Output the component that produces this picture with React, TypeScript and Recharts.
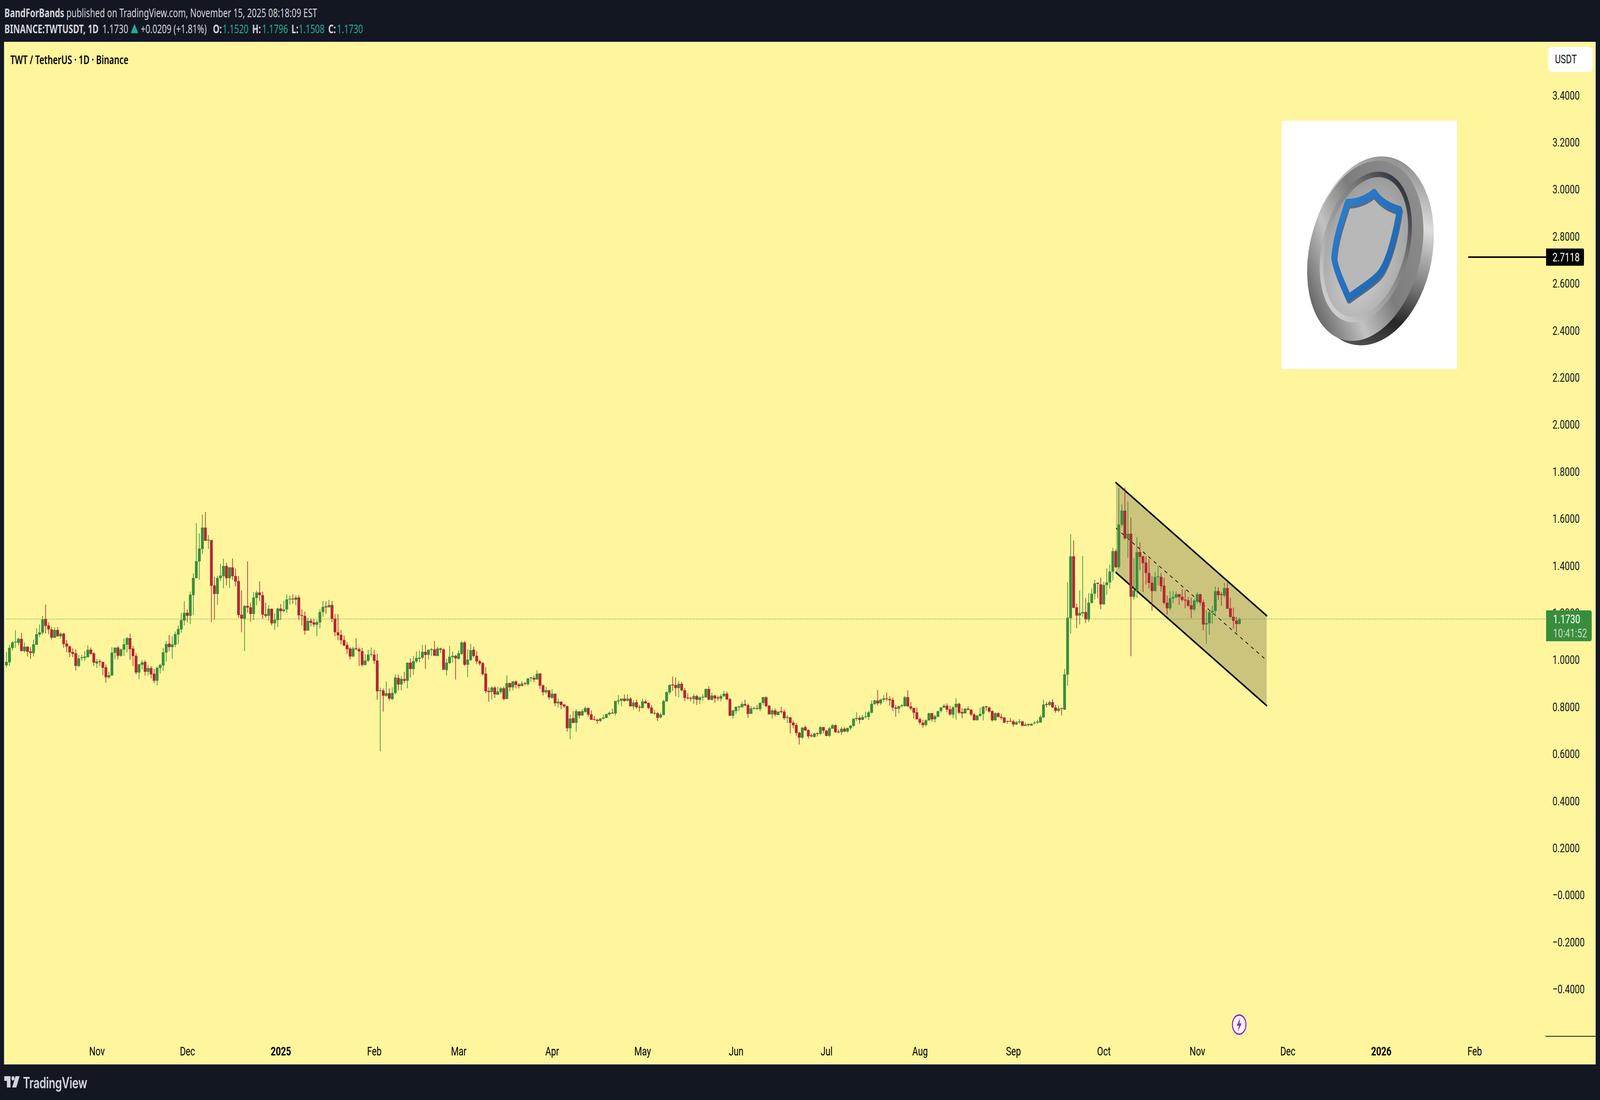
import React from "react";
import { ComposedChart, Bar, Area, XAxis, YAxis, ReferenceLine } from "recharts";

// daily TWT/USDT candles, Oct 2 2024 -> Nov 15 2025, ten per line
const opens = [
  0.976,0.989,1.050,1.074,1.072,1.089,1.037,1.056,1.036,1.028,
  1.064,1.107,1.115,1.174,1.146,1.129,1.094,1.127,1.100,1.111,
  1.069,1.057,1.033,1.028,0.974,1.008,1.008,1.011,1.043,1.028,
  0.984,0.994,0.991,0.968,0.925,0.933,1.029,1.052,1.017,1.043,
  1.064,1.092,1.048,1.017,0.946,0.979,0.991,0.949,0.965,0.941,
  0.911,0.965,0.976,1.031,1.069,1.054,1.064,1.107,1.129,1.167,
  1.200,1.187,1.275,1.347,1.418,1.471,1.562,1.507,1.509,1.316,
  1.280,1.347,1.355,1.399,1.347,1.393,1.356,1.335,1.192,1.175,
  1.229,1.223,1.195,1.263,1.286,1.275,1.194,1.187,1.217,1.155,
  1.169,1.218,1.207,1.214,1.257,1.260,1.255,1.265,1.190,1.187,
  1.124,1.166,1.159,1.149,1.159,1.203,1.227,1.223,1.233,1.175,
  1.117,1.106,1.084,1.063,1.048,1.014,1.049,1.045,1.037,0.978,
  0.996,1.022,1.022,0.997,0.868,0.870,0.847,0.858,0.833,0.859,
  0.923,0.895,0.918,0.911,0.988,0.961,0.993,1.004,1.009,1.034,
  1.021,1.043,1.044,1.016,1.048,1.044,0.956,0.986,1.011,1.017,
  1.004,1.025,1.074,0.979,0.999,1.043,1.017,0.994,0.986,0.941,
  0.868,0.863,0.882,0.851,0.863,0.879,0.833,0.901,0.883,0.908,
  0.895,0.888,0.901,0.896,0.921,0.923,0.916,0.942,0.891,0.862,
  0.870,0.838,0.856,0.815,0.822,0.810,0.803,0.709,0.752,0.732,
  0.780,0.763,0.778,0.795,0.768,0.748,0.745,0.740,0.750,0.753,
  0.768,0.775,0.772,0.823,0.826,0.835,0.826,0.835,0.802,0.820,
  0.800,0.795,0.823,0.817,0.797,0.772,0.773,0.755,0.765,0.823,
  0.861,0.895,0.893,0.880,0.898,0.871,0.840,0.838,0.833,0.846,
  0.830,0.840,0.840,0.876,0.830,0.848,0.840,0.835,0.845,0.856,
  0.833,0.762,0.782,0.798,0.798,0.812,0.807,0.770,0.792,0.795,
  0.790,0.817,0.841,0.805,0.768,0.785,0.765,0.782,0.780,0.753,
  0.755,0.733,0.723,0.690,0.669,0.714,0.702,0.679,0.672,0.689,
  0.685,0.714,0.699,0.677,0.707,0.722,0.695,0.692,0.707,0.695,
  0.709,0.719,0.748,0.753,0.745,0.757,0.757,0.775,0.812,0.827,
  0.815,0.830,0.836,0.833,0.830,0.797,0.792,0.803,0.803,0.841,
  0.802,0.795,0.777,0.748,0.733,0.723,0.742,0.773,0.747,0.758,
  0.782,0.797,0.805,0.790,0.767,0.798,0.813,0.778,0.772,0.792,
  0.788,0.768,0.743,0.762,0.770,0.802,0.797,0.782,0.743,0.773,
  0.758,0.755,0.737,0.740,0.738,0.725,0.735,0.738,0.719,0.727,
  0.720,0.730,0.733,0.733,0.755,0.812,0.808,0.820,0.798,0.783,
  0.795,0.788,0.937,1.177,1.440,1.223,1.188,1.197,1.203,1.171,
  1.242,1.281,1.327,1.321,1.236,1.318,1.329,1.374,1.462,1.394,
  1.574,1.634,1.516,1.536,1.268,1.293,1.458,1.440,1.413,1.369,
  1.328,1.292,1.352,1.353,1.315,1.243,1.219,1.261,1.265,1.279,
  1.268,1.256,1.253,1.232,1.214,1.247,1.279,1.245,1.150,1.155,
  1.201,1.207,1.292,1.279,1.273,1.305,1.219,1.183,1.167,1.152,
];
const highs = [
  1.033,1.063,1.080,1.126,1.094,1.114,1.074,1.057,1.054,1.086,
  1.135,1.150,1.187,1.235,1.160,1.140,1.137,1.139,1.117,1.115,
  1.084,1.061,1.049,1.045,1.021,1.021,1.037,1.061,1.052,1.032,
  1.004,1.002,0.991,0.981,0.948,1.054,1.052,1.059,1.049,1.091,
  1.097,1.111,1.059,1.029,0.982,0.999,0.999,0.978,0.973,0.961,
  0.971,0.984,1.051,1.080,1.106,1.100,1.120,1.146,1.200,1.249,
  1.214,1.290,1.367,1.581,1.537,1.617,1.629,1.530,1.509,1.353,
  1.358,1.408,1.430,1.413,1.395,1.431,1.388,1.356,1.295,1.233,
  1.419,1.242,1.288,1.293,1.333,1.290,1.243,1.232,1.218,1.198,
  1.222,1.237,1.250,1.278,1.273,1.278,1.275,1.275,1.215,1.205,
  1.179,1.175,1.174,1.169,1.215,1.249,1.249,1.255,1.250,1.195,
  1.195,1.126,1.103,1.076,1.054,1.056,1.092,1.052,1.051,1.024,
  1.043,1.052,1.043,1.025,0.882,0.878,0.908,0.878,0.883,0.938,
  0.938,0.931,0.949,0.988,1.006,1.017,1.036,1.039,1.064,1.064,
  1.044,1.051,1.080,1.056,1.052,1.048,1.004,1.059,1.036,1.021,
  1.041,1.079,1.080,1.045,1.067,1.056,1.037,1.001,0.991,0.969,
  0.883,0.888,0.888,0.885,0.885,0.886,0.934,0.903,0.910,0.913,
  0.901,0.910,0.906,0.921,0.928,0.933,0.956,0.942,0.896,0.885,
  0.873,0.875,0.856,0.836,0.823,0.812,0.805,0.768,0.782,0.790,
  0.782,0.790,0.802,0.797,0.785,0.762,0.750,0.753,0.767,0.770,
  0.780,0.792,0.825,0.850,0.836,0.853,0.853,0.840,0.828,0.831,
  0.808,0.835,0.831,0.818,0.807,0.788,0.777,0.775,0.830,0.865,
  0.895,0.929,0.926,0.911,0.906,0.880,0.858,0.843,0.855,0.851,
  0.845,0.855,0.878,0.888,0.860,0.851,0.848,0.855,0.868,0.865,
  0.838,0.787,0.802,0.805,0.822,0.831,0.813,0.803,0.800,0.808,
  0.818,0.843,0.845,0.808,0.793,0.793,0.780,0.800,0.788,0.765,
  0.758,0.742,0.732,0.694,0.714,0.720,0.704,0.687,0.689,0.689,
  0.719,0.714,0.702,0.715,0.727,0.725,0.704,0.715,0.714,0.712,
  0.722,0.750,0.777,0.762,0.767,0.780,0.783,0.827,0.830,0.871,
  0.835,0.850,0.861,0.845,0.840,0.807,0.805,0.812,0.846,0.870,
  0.820,0.797,0.798,0.755,0.745,0.747,0.775,0.773,0.767,0.783,
  0.800,0.813,0.815,0.805,0.803,0.836,0.818,0.795,0.795,0.802,
  0.790,0.773,0.767,0.797,0.805,0.805,0.802,0.785,0.777,0.777,
  0.770,0.755,0.742,0.753,0.745,0.740,0.748,0.740,0.733,0.728,
  0.730,0.740,0.745,0.765,0.831,0.822,0.827,0.833,0.808,0.805,
  0.795,0.961,1.329,1.534,1.508,1.239,1.295,1.442,1.263,1.283,
  1.304,1.340,1.329,1.349,1.332,1.389,1.405,1.476,1.469,1.730,
  1.660,1.732,1.674,1.605,1.433,1.521,1.499,1.442,1.440,1.428,
  1.355,1.373,1.400,1.369,1.349,1.273,1.292,1.292,1.290,1.279,
  1.300,1.295,1.267,1.264,1.259,1.287,1.281,1.256,1.212,1.214,
  1.230,1.312,1.309,1.288,1.327,1.327,1.263,1.222,1.183,1.180,
];
const lows = [
  0.968,0.974,1.039,1.051,1.061,1.036,1.031,1.014,1.004,1.014,
  1.064,1.097,1.106,1.112,1.109,1.086,1.092,1.098,1.089,1.051,
  1.032,1.011,1.011,0.954,0.968,0.997,0.996,1.011,1.022,0.974,
  0.966,0.973,0.936,0.903,0.919,0.933,1.002,1.001,1.013,1.016,
  1.031,1.001,0.973,0.938,0.918,0.959,0.933,0.934,0.921,0.901,
  0.891,0.942,0.953,0.993,1.036,1.004,1.054,1.067,1.115,1.146,
  1.159,1.152,1.190,1.347,1.340,1.450,1.506,1.471,1.160,1.170,
  1.233,1.335,1.304,1.316,1.305,1.340,1.312,1.179,1.117,1.037,
  1.200,1.162,1.169,1.232,1.250,1.175,1.179,1.166,1.146,1.127,
  1.139,1.170,1.202,1.200,1.235,1.238,1.232,1.170,1.146,1.107,
  1.124,1.142,1.140,1.100,1.134,1.183,1.195,1.223,1.160,1.100,
  1.083,1.066,1.057,1.025,1.001,1.011,1.041,0.974,0.971,0.976,
  0.991,1.013,0.982,0.830,0.611,0.780,0.843,0.827,0.828,0.853,
  0.870,0.870,0.901,0.879,0.925,0.936,0.986,0.989,1.002,0.962,
  1.001,1.016,1.017,1.016,1.029,0.958,0.933,0.982,0.988,0.916,
  1.001,1.020,0.974,0.926,0.994,1.009,0.982,0.976,0.933,0.858,
  0.822,0.830,0.838,0.851,0.855,0.827,0.833,0.866,0.870,0.878,
  0.878,0.888,0.891,0.890,0.906,0.905,0.916,0.876,0.848,0.855,
  0.830,0.833,0.803,0.797,0.790,0.795,0.695,0.662,0.730,0.694,
  0.750,0.763,0.775,0.758,0.745,0.742,0.728,0.735,0.747,0.753,
  0.763,0.772,0.763,0.810,0.803,0.822,0.823,0.802,0.788,0.792,
  0.780,0.793,0.813,0.790,0.772,0.765,0.740,0.750,0.765,0.823,
  0.853,0.868,0.845,0.840,0.866,0.825,0.831,0.823,0.812,0.808,
  0.812,0.826,0.840,0.828,0.828,0.818,0.826,0.823,0.843,0.830,
  0.762,0.750,0.770,0.783,0.798,0.805,0.753,0.770,0.788,0.787,
  0.782,0.808,0.798,0.768,0.750,0.760,0.765,0.772,0.745,0.732,
  0.687,0.709,0.677,0.640,0.664,0.697,0.665,0.670,0.670,0.674,
  0.680,0.687,0.675,0.672,0.707,0.690,0.687,0.680,0.694,0.690,
  0.700,0.715,0.740,0.728,0.743,0.750,0.745,0.772,0.808,0.805,
  0.808,0.822,0.825,0.805,0.782,0.758,0.773,0.797,0.802,0.800,
  0.785,0.750,0.747,0.725,0.712,0.717,0.742,0.737,0.733,0.755,
  0.775,0.795,0.777,0.762,0.752,0.745,0.770,0.752,0.772,0.787,
  0.760,0.743,0.742,0.758,0.742,0.783,0.775,0.737,0.740,0.755,
  0.745,0.730,0.728,0.737,0.715,0.723,0.728,0.719,0.719,0.717,
  0.720,0.725,0.727,0.733,0.753,0.798,0.803,0.795,0.775,0.777,
  0.763,0.787,0.890,1.111,1.219,1.135,1.150,1.183,1.156,1.161,
  1.239,1.257,1.262,1.215,1.234,1.276,1.303,1.338,1.390,1.387,
  1.565,1.511,1.433,1.015,1.256,1.264,1.381,1.288,1.320,1.303,
  1.208,1.292,1.317,1.290,1.235,1.192,1.210,1.240,1.261,1.234,
  1.248,1.219,1.225,1.177,1.207,1.239,1.230,1.124,1.068,1.107,
  1.154,1.189,1.255,1.230,1.265,1.217,1.179,1.132,1.117,1.151,
];
const closes = [
  0.991,1.051,1.074,1.077,1.089,1.037,1.056,1.034,1.029,1.066,
  1.109,1.117,1.172,1.144,1.129,1.094,1.127,1.100,1.111,1.067,
  1.056,1.031,1.025,0.974,1.006,1.011,1.014,1.043,1.025,0.988,
  0.993,0.991,0.966,0.926,0.934,1.031,1.052,1.017,1.044,1.066,
  1.092,1.045,1.016,0.946,0.981,0.989,0.949,0.965,0.938,0.911,
  0.966,0.978,1.032,1.067,1.054,1.066,1.109,1.131,1.169,1.200,
  1.187,1.277,1.348,1.419,1.473,1.562,1.506,1.511,1.315,1.280,
  1.348,1.358,1.399,1.347,1.393,1.355,1.333,1.190,1.175,1.229,
  1.222,1.195,1.265,1.286,1.275,1.192,1.187,1.217,1.155,1.170,
  1.218,1.207,1.214,1.257,1.260,1.257,1.265,1.189,1.187,1.124,
  1.166,1.157,1.150,1.160,1.203,1.225,1.223,1.233,1.174,1.117,
  1.104,1.083,1.061,1.045,1.014,1.048,1.045,1.036,0.978,0.997,
  1.022,1.025,0.996,0.866,0.871,0.847,0.858,0.835,0.859,0.925,
  0.895,0.919,0.911,0.988,0.961,0.994,1.008,1.009,1.034,1.021,
  1.043,1.045,1.017,1.048,1.043,0.958,0.988,1.013,1.017,1.006,
  1.028,1.074,0.979,1.001,1.041,1.016,0.993,0.984,0.939,0.866,
  0.863,0.882,0.853,0.865,0.879,0.833,0.901,0.883,0.908,0.893,
  0.888,0.899,0.898,0.921,0.925,0.916,0.941,0.890,0.862,0.871,
  0.840,0.856,0.815,0.822,0.808,0.802,0.709,0.750,0.732,0.782,
  0.763,0.782,0.795,0.767,0.745,0.745,0.740,0.750,0.755,0.770,
  0.775,0.772,0.825,0.828,0.835,0.825,0.835,0.802,0.818,0.798,
  0.797,0.823,0.815,0.795,0.772,0.775,0.753,0.767,0.825,0.863,
  0.893,0.891,0.880,0.898,0.870,0.838,0.836,0.835,0.846,0.830,
  0.840,0.843,0.876,0.831,0.848,0.836,0.836,0.846,0.856,0.831,
  0.762,0.785,0.800,0.802,0.812,0.805,0.770,0.793,0.795,0.792,
  0.817,0.841,0.803,0.768,0.785,0.767,0.780,0.778,0.752,0.757,
  0.732,0.722,0.689,0.669,0.712,0.700,0.675,0.675,0.687,0.685,
  0.714,0.699,0.677,0.709,0.722,0.692,0.692,0.707,0.695,0.710,
  0.720,0.750,0.753,0.745,0.757,0.760,0.777,0.813,0.827,0.815,
  0.831,0.836,0.833,0.828,0.797,0.792,0.803,0.807,0.841,0.802,
  0.793,0.775,0.747,0.733,0.722,0.743,0.773,0.747,0.760,0.782,
  0.797,0.805,0.788,0.768,0.798,0.813,0.775,0.772,0.792,0.787,
  0.767,0.743,0.763,0.770,0.800,0.798,0.780,0.743,0.773,0.757,
  0.753,0.733,0.740,0.737,0.725,0.735,0.738,0.719,0.725,0.723,
  0.728,0.733,0.737,0.757,0.810,0.808,0.820,0.798,0.783,0.793,
  0.792,0.938,1.179,1.440,1.221,1.188,1.199,1.203,1.172,1.243,
  1.281,1.325,1.323,1.236,1.318,1.329,1.375,1.462,1.394,1.575,
  1.634,1.516,1.536,1.268,1.295,1.458,1.438,1.411,1.369,1.327,
  1.292,1.352,1.355,1.313,1.242,1.219,1.262,1.267,1.279,1.267,
  1.255,1.252,1.230,1.214,1.252,1.279,1.243,1.150,1.157,1.202,
  1.208,1.292,1.275,1.275,1.305,1.217,1.182,1.166,1.152,1.173,
];

// x slots include the empty days up to the right edge of the pane
const slotCount = 512;

const monthTickDays = [30, 60, 91, 122, 150, 181, 211, 242, 272, 303, 334, 364, 395, 425, 456, 487];
const monthTickNames = ["Nov", "Dec", "2025", "Feb", "Mar", "Apr", "May", "Jun", "Jul", "Aug", "Sep", "Oct", "Nov", "Dec", "2026", "Feb"];

const priceTicks = [3.4, 3.2, 3.0, 2.8, 2.6, 2.4, 2.2, 2.0, 1.8, 1.6, 1.4, 1.2, 1.0, 0.8, 0.6, 0.4, 0.2, 0, -0.2, -0.4];
const priceTickNames = ["3.4000", "3.2000", "3.0000", "2.8000", "2.6000", "2.4000", "2.2000", "2.0000", "1.8000", "1.6000", "1.4000", "1.2000", "1.0000", "0.8000", "0.6000", "0.4000", "0.2000", "\u22120.0000", "\u22120.2000", "\u22120.4000"];
const priceDomain = [-0.6005, 3.6254];

// falling channel drawn by the author: two ends only
const channelDays = [368, 418];
const channelUpper = [1.753, 1.1875];
const channelLower = [1.371, 0.805];
const channelMiddle = [1.56, 0.9975];

const lastClose = 1.173;
const targetPrice = 2.7118;
const targetStartDay = 485;

const rows = Array.from({ length: slotCount }, (_, day) => {
  const c = channelDays.indexOf(day);
  return {
    day,
    open: opens[day],
    high: highs[day],
    low: lows[day],
    close: closes[day],
    upper: c >= 0 ? channelUpper[c] : null,
    lower: c >= 0 ? channelLower[c] : null,
    middle: c >= 0 ? channelMiddle[c] : null,
  };
});

const UP = "#388e3c";
const DOWN = "#b22833";
const INK = "#131722";
const FONT = "Roboto, sans-serif";
const HEAD_FONT = "'Noto Sans', sans-serif";

// layout is in the reference's 5787 wide pixels; the browser can be narrower (it caps at 4096)
const DESIGN_W = 5787;
const DESIGN_H = 2815;

const Candle = (props: any) => {
  const { x, y, width, height, payload } = props;
  if (payload.open == null) return null;
  const color = payload.close >= payload.open ? UP : DOWN;
  const h = Math.abs(height);
  const perPrice = h / (payload.high - payload.low);
  const bodyTop = y + (payload.high - Math.max(payload.open, payload.close)) * perPrice;
  const bodyH = Math.max(Math.abs(payload.open - payload.close) * perPrice, 2);
  return (
    <g>
      <rect x={x + width / 2 - 1.2} y={y} width={2.4} height={h} fill={color} />
      <rect x={x} y={bodyTop} width={width} height={bodyH} fill={color} />
    </g>
  );
};

const TimeTick = (props: any) => {
  const i = props.index;
  const name = monthTickNames[i];
  const isYear = /^\d/.test(name);
  return (
    <text x={props.x} y={props.y} textAnchor="middle" dominantBaseline="central" fontFamily={FONT} fontSize={32} fontWeight={isYear ? 700 : 400} fill="#000">
      {name}
    </text>
  );
};

const PriceTick = (props: any) => {
  const i = priceTicks.indexOf(props.payload.value);
  return (
    <text x={props.x} y={props.y} textAnchor="start" dominantBaseline="central" fontFamily={FONT} fontSize={32} fill={INK}>
      {priceTickNames[i]}
    </text>
  );
};

const channelRange = (d: any) => (d.upper == null ? null : [d.lower, d.upper]);
const candleRange = (d: any) => (d.open == null ? null : [d.low, d.high]);

const Head = ({ x, y, children, bold, color }: any) => (
  <span
    style={{
      position: "absolute",
      left: x,
      top: y,
      transform: "translateY(-50%)",
      fontFamily: HEAD_FONT,
      fontSize: 30,
      fontWeight: bold ? 700 : 400,
      color: color || "#d1d4dc",
      whiteSpace: "nowrap",
      lineHeight: 1,
    }}
  >
    {children}
  </span>
);

// stock picture of the coin that sits in the chart
const CoinPicture = () => (
  <svg viewBox="4635 309 635 635" width={635} height={635} style={{ position: "absolute", left: 4635, top: 309 }}>
    <defs>
      <linearGradient id="coinBack" x1="0.35" y1="0" x2="0.65" y2="1">
        <stop offset="0" stopColor="#8c8c8c" />
        <stop offset="0.3" stopColor="#dcdcdc" />
        <stop offset="0.55" stopColor="#8a8a8a" />
        <stop offset="0.8" stopColor="#262626" />
        <stop offset="1" stopColor="#555" />
      </linearGradient>
      <linearGradient id="coinRim" x1="0.7" y1="0" x2="0.3" y2="1">
        <stop offset="0" stopColor="#8f8f8f" />
        <stop offset="0.45" stopColor="#7d7d7d" />
        <stop offset="0.7" stopColor="#c2c2c2" />
        <stop offset="1" stopColor="#5c5c5c" />
      </linearGradient>
      <linearGradient id="coinWell" x1="0.6" y1="0" x2="0.4" y2="1">
        <stop offset="0" stopColor="#30343c" />
        <stop offset="0.3" stopColor="#777" />
        <stop offset="1" stopColor="#d0d0d0" />
      </linearGradient>
      <radialGradient id="coinFace" cx="0.55" cy="0.65" r="0.65">
        <stop offset="0" stopColor="#d6d6d6" />
        <stop offset="1" stopColor="#9c9c9c" />
      </radialGradient>
      <linearGradient id="shieldBlue" x1="0" y1="0" x2="1" y2="1">
        <stop offset="0" stopColor="#2f7fd0" />
        <stop offset="1" stopColor="#1c62ad" />
      </linearGradient>
    </defs>
    <rect x={4635} y={309} width={635} height={635} fill="#fff" />
    <ellipse cx={4960} cy={642} rx={212} ry={254} fill="url(#coinBack)" transform="rotate(34 4960 642)" />
    <ellipse cx={4938} cy={642} rx={192} ry={246} fill="url(#coinRim)" transform="rotate(34 4938 642)" />
    <ellipse cx={4940} cy={632} rx={150} ry={206} fill="url(#coinWell)" transform="rotate(31 4940 632)" />
    <ellipse cx={4940} cy={632} rx={136} ry={192} fill="url(#coinFace)" transform="rotate(31 4940 632)" />
    <path
      d="M4874 519 C4910 519 4945 508 4970 493 C4990 515 5025 530 5062 537 C5048 600 5025 660 5000 690 C4985 712 4930 735 4878 762 C4855 725 4832 690 4825 660 C4830 610 4855 560 4874 519 Z"
      fill="#b8b8b8"
      stroke="#5a6a7a"
      strokeWidth={20}
      strokeLinejoin="round"
      transform="translate(2 5)"
    />
    <path
      d="M4874 519 C4910 519 4945 508 4970 493 C4990 515 5025 530 5062 537 C5048 600 5025 660 5000 690 C4985 712 4930 735 4878 762 C4855 725 4832 690 4825 660 C4830 610 4855 560 4874 519 Z"
      fill="none"
      stroke="url(#shieldBlue)"
      strokeWidth={20}
      strokeLinejoin="round"
    />
  </svg>
);

const BoltBadge = () => (
  <svg width={58} height={58} viewBox="0 0 58 58" style={{ position: "absolute", left: 4453, top: 2593 }}>
    <circle cx={29} cy={29} r={28} fill="#fff" />
    <circle cx={29} cy={29} r={24.5} fill="#fff" stroke="#9c27b0" strokeWidth={4} />
    <path d="M33 11 L20 32 L28 32 L24 47 L38 26 L30 26 Z" fill="#9c27b0" />
  </svg>
);

export default function App() {
  const fitX = Math.min(1, window.innerWidth / DESIGN_W);
  return (
    <div style={{ position: "absolute", left: 0, top: 0, width: DESIGN_W * fitX, height: DESIGN_H, overflow: "hidden", background: INK }}>
      <div style={{ position: "absolute", left: 0, top: 0, width: DESIGN_W, height: DESIGN_H, background: INK, transform: `scaleX(${fitX})`, transformOrigin: "0 0" }}>
        <div
          style={{
            position: "absolute",
            left: 15,
            top: 107,
            width: 5754,
            height: 2615,
            background: "#fff59d",
            border: "1.5px solid #f0f3fa",
          }}
        />

        <Head x={16} y={33}>
          <b>BandForBands</b> published on TradingView.com, November 15, 2025 08:18:09 EST
        </Head>
        <Head x={16} y={74} bold>BINANCE:TWTUSDT, 1D</Head>
        <Head x={370} y={74}>1.1730</Head>
        <svg width={27} height={24} style={{ position: "absolute", left: 473, top: 61 }}>
          <path d="M13.5 0 L27 24 L0 24 Z" fill="#22ab94" />
        </svg>
        <Head x={509} y={74}>+0.0209 (+1.81%)</Head>
        <Head x={770} y={74} bold>O:</Head>
        <Head x={805} y={74} color="#22ab94">1.1520</Head>
        <Head x={912} y={74} bold>H:</Head>
        <Head x={948} y={74} color="#22ab94">1.1796</Head>
        <Head x={1054} y={74} bold>L:</Head>
        <Head x={1080} y={74} color="#22ab94">1.1508</Head>
        <Head x={1187} y={74} bold>C:</Head>
        <Head x={1219} y={74} color="#22ab94">1.1730</Head>

        <div style={{ position: "absolute", left: 0, top: 0 }}>
          <ComposedChart width={DESIGN_W} height={DESIGN_H} data={rows} margin={{ top: 108, right: 0, bottom: 0, left: 18.15 }}>
            <XAxis
              dataKey="day"
              type="category"
              ticks={monthTickDays}
              interval={0}
              axisLine={false}
              tickLine={false}
              tickSize={0}
              tickMargin={38}
              height={163}
              tick={TimeTick}
            />
            <YAxis
              orientation="right"
              type="number"
              domain={priceDomain}
              allowDataOverflow
              ticks={priceTicks}
              interval={0}
              axisLine={false}
              tickLine={false}
              tickSize={0}
              tickMargin={14}
              width={186}
              tick={PriceTick}
            />
            <Area
              dataKey={channelRange}
              connectNulls
              fill="#000"
              fillOpacity={0.2}
              stroke="#000"
              strokeWidth={4.5}
              strokeLinecap="round"
              dot={false}
              activeDot={false}
              isAnimationActive={false}
            />
            <Area
              dataKey="middle"
              connectNulls
              fill="none"
              stroke="#000"
              strokeWidth={2}
              strokeDasharray="11 12"
              dot={false}
              activeDot={false}
              isAnimationActive={false}
            />
            <Bar dataKey={candleRange} barSize={10} shape={Candle} isAnimationActive={false} />
            <ReferenceLine y={lastClose} stroke={UP} strokeWidth={2} strokeDasharray="2 4.5" />
            <ReferenceLine
              segment={[
                { x: targetStartDay, y: targetPrice },
                { x: slotCount - 1, y: targetPrice },
              ]}
              stroke="#000"
              strokeWidth={4}
              strokeLinecap="round"
              ifOverflow="visible"
            />
          </ComposedChart>
        </div>

        <div style={{ position: "absolute", left: 37, top: 153, transform: "translateY(-50%)", fontFamily: HEAD_FONT, fontSize: 30, fontWeight: 600, color: "#000", lineHeight: 1, whiteSpace: "nowrap" }}>
          TWT / TetherUS · 1D · Binance
        </div>

        <div style={{ position: "absolute", left: 5600, top: 120, width: 160, height: 64, background: "#fff", borderRadius: 10, fontFamily: FONT, fontSize: 32, color: INK, lineHeight: "62px", textIndent: 24 }}>
          USDT
        </div>

        <CoinPicture />
        <BoltBadge />

        <div style={{ position: "absolute", left: 5592, top: 636, width: 137, height: 44, background: "#000", borderRadius: "0 4px 4px 0", color: "#fff", fontFamily: FONT, fontSize: 32, lineHeight: "44px", textIndent: 23 }}>
          2.7118
        </div>

        <div style={{ position: "absolute", left: 5592, top: 1562, width: 165, height: 79, background: UP, borderRadius: "0 6px 6px 0", fontFamily: FONT, fontSize: 32, lineHeight: "36px", textIndent: 25 }}>
          <div style={{ color: "#fff", marginTop: 4 }}>1.1730</div>
          <div style={{ color: "rgba(255,255,255,0.7)" }}>10:41:52</div>
        </div>

        <div style={{ position: "absolute", left: 5590, top: 2651, width: 181, height: 2, background: INK }} />

        <svg width={60} height={30} style={{ position: "absolute", left: 15, top: 2754 }}>
          <path d="M0 0 H23 V29 H10 V12 H0 Z" fill="#d1d4dc" />
          <circle cx={32} cy={5.5} r={5.5} fill="#d1d4dc" />
          <path d="M41 0 H56 L44 29 H29 Z" fill="#d1d4dc" />
        </svg>
        <div style={{ position: "absolute", left: 83, top: 2770, transform: "translateY(-50%)", fontFamily: "Inter, sans-serif", fontSize: 39, fontWeight: 600, color: "#d1d4dc", lineHeight: 1, letterSpacing: -0.5 }}>
          TradingView
        </div>
      </div>
    </div>
  );
}
